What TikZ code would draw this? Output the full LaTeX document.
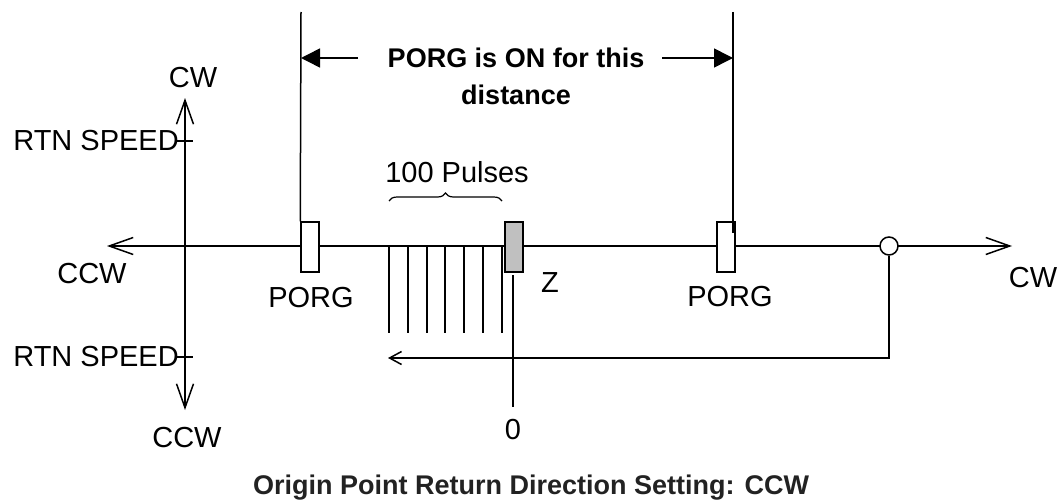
\documentclass[tikz,border=0pt]{standalone}
\usepackage{fontspec}
\setmainfont{Liberation Sans}
\usetikzlibrary{arrows.meta,decorations.pathreplacing}
\begin{document}
\begin{tikzpicture}[x=1pt,y=-1pt,
  ln/.style={line width=1.5pt},
  lbl/.style={inner sep=0pt,font=\fontsize{29}{30}\selectfont},
  blbl/.style={inner sep=0pt,font=\fontsize{27}{30}\selectfont\bfseries},
  mark box/.style={draw,ln,fill=white,minimum width=18pt,minimum height=50pt,inner sep=0pt},
  dimtip/.style={-{Triangle[length=19pt,width=19pt]}},
]
\useasboundingbox (0,0) rectangle (1062,503);
% coordinates
\coordinate (axL) at (107,246);
\coordinate (axR) at (1012,246);
\coordinate (vT) at (185,98);
\coordinate (vB) at (185,410);
% main horizontal axis
\draw[ln,{Straight Barb[length=24pt,width=17pt,line width=1.5pt]}-{Straight Barb[length=24pt,width=17pt,line width=1.5pt]}] (axL) -- (axR);
% vertical axis
\draw[ln,{Straight Barb[length=24pt,width=17pt,line width=1.5pt]}-{Straight Barb[length=24pt,width=17pt,line width=1.5pt]}] (vT) -- (vB);
\coordinate (t1a) at (177,141); \coordinate (t1b) at (193,141);
\coordinate (t2a) at (177,357); \coordinate (t2b) at (193,357);
\draw[ln] (t1a) -- (t1b);
\draw[ln] (t2a) -- (t2b);
\node[lbl] (cwT) at (193,78) {CW};
\node[lbl,anchor=east] (rsT) at (179,141) {RTN SPEED};
\node[lbl,anchor=east] (rsB) at (179,357) {RTN SPEED};
\node[lbl] (ccwL) at (92,274) {CCW};
\node[lbl] (ccwB) at (187,438) {CCW};
\node[lbl] (cwR) at (1033,278) {CW};
% pulse lines
\foreach \i/\x in {1/389,2/408,3/427,4/445,5/464,6/483,7/502}{
  \coordinate (p\i a) at (\x,247);
  \coordinate (p\i b) at (\x,333);
  \draw[line width=1.2pt] (p\i a) -- (p\i b);
}
% boxes
\node[mark box] (porgL) at (310,247) {};
\node[mark box] (porgR) at (726,247) {};
\node[mark box,fill={rgb,255:red,192;green,192;blue,192}] (zbox) at (514,247) {};
\node[lbl] (porgLt) at (311,298) {PORG};
\node[lbl] (porgRt) at (730,297) {PORG};
\node[lbl] (zt) at (550,283) {Z};
\node[lbl] (zero) at (513,430) {0};
% Z line
\coordinate (zl1) at (513,275);
\coordinate (zl2) at (513,407);
\draw[ln] (zl1) -- (zl2);
% vertical PORG lines
\coordinate (vlL) at (301,12);
\coordinate (vlR) at (733,12);
\coordinate (vlRe) at (733,233);
\draw[ln] (vlL) -- (porgL.north west);
\draw[ln] (vlR) -- (vlRe);
% dimension arrows
\coordinate (dL1) at (358,58); \coordinate (dL2) at (301,58);
\coordinate (dR1) at (662,58); \coordinate (dR2) at (733,58);
\draw[ln,dimtip] (dL1) -- (dL2);
\draw[ln,dimtip] (dR1) -- (dR2);
\node[blbl] (on1) at (516,58) {PORG is ON for this};
\node[blbl] (on2) at (516,95) {distance};
% circle and return path
\node[draw,ln,circle,fill=white,minimum size=18pt,inner sep=0pt] (circ) at (889,246) {};
\coordinate (rc) at (889,358);
\coordinate (ra) at (388,358);
\draw[ln,-{Straight Barb[length=12pt,width=13pt,line width=1.5pt]}] (circ.south) -- (rc) -- (ra);
% brace
\coordinate (brL) at (389,201);
\coordinate (brR) at (502,201);
\draw[line width=1.2pt,decorate,decoration={brace,amplitude=8pt}] (brL) -- (brR);
\node[lbl] (pul) at (457,172) {100 Pulses};
% title
\node[blbl,text={rgb,255:red,34;green,34;blue,34}] (title) at (531,488) {Origin Point Return Direction Setting: CCW};
\end{tikzpicture}
\end{document}
